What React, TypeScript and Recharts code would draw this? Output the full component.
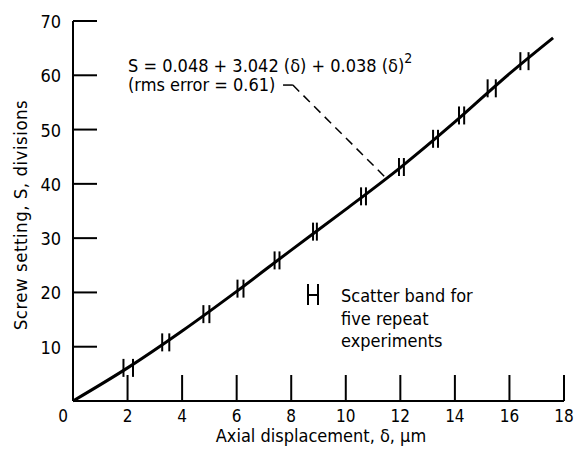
import React from 'react';
import {
  ComposedChart,
  Line,
  Scatter,
  XAxis,
  YAxis,
  ReferenceLine,
} from 'recharts';

// fitted curve (δ in µm, S in divisions)
const curveDelta = [0, 2, 4, 6, 8, 10, 12, 14, 16, 17.6];
const curveS = [0, 6.1, 12.9, 20.2, 27.8, 35.3, 43.0, 51.4, 60.3, 66.9];

// scatter bands: lowest / highest δ of five repeats at each screw setting
const bandLow = [1.85, 3.27, 4.78, 6.03, 7.39, 8.8, 10.56, 11.95, 13.2, 14.15, 15.2, 16.4];
const bandHigh = [2.2, 3.53, 5.0, 6.25, 7.57, 8.94, 10.74, 12.13, 13.38, 14.34, 15.5, 16.7];
const bandS = [6.1, 10.8, 16.0, 20.7, 25.9, 31.2, 37.7, 43.1, 48.3, 52.6, 57.6, 62.6];

const xTicks = [0, 2, 4, 6, 8, 10, 12, 14, 16, 18];
const yTicks = [10, 20, 30, 40, 50, 60, 70];

const FONT = "'DejaVu Sans Condensed', 'Liberation Sans Narrow', sans-serif";

const curveData = curveDelta.map((x, i) => ({ x, y: curveS[i] }));
const bandData = bandS.flatMap((s, i) => [
  { x: bandLow[i], y: s },
  { x: bandHigh[i], y: s },
]);

const BandBar = (props: any) => {
  const { cx, cy } = props;
  if (cx == null || cy == null) return null;
  return <line x1={cx} x2={cx} y1={cy - 9} y2={cy + 9} stroke="#000" strokeWidth={2} />;
};

const XTick = (props: any) => {
  const { x, y, payload } = props;
  const v = payload.value;
  return (
    <g>
      {v !== 0 && <line x1={x} x2={x} y1={y} y2={y - 26} stroke="#000" strokeWidth={2} />}
      <text
        x={v === 0 ? x - 10 : x}
        y={y + 21}
        textAnchor="middle"
        fontFamily={FONT}
        fontSize={17}
        fill="#000"
      >
        {v}
      </text>
    </g>
  );
};

const YTick = (props: any) => {
  const { x, y, payload } = props;
  return (
    <g>
      <line x1={x} x2={x + 24} y1={y} y2={y} stroke="#000" strokeWidth={2} />
      <text x={x - 12} y={y + 7} textAnchor="end" fontFamily={FONT} fontSize={18} fill="#000">
        {payload.value}
      </text>
    </g>
  );
};

export default function App() {
  return (
    <div style={{ position: 'absolute', left: 0, top: 0, width: 576, height: 452, background: '#fff' }}>
      <ComposedChart width={576} height={452} margin={{ top: 21, right: 12, bottom: 21, left: 13 }}>
        <XAxis
          type="number"
          dataKey="x"
          domain={[0, 18]}
          ticks={xTicks}
          interval={0}
          tickSize={0}
          tickMargin={0}
          height={30}
          axisLine={{ stroke: '#000', strokeWidth: 2 }}
          tickLine={false}
          tick={<XTick />}
        />
        <YAxis
          type="number"
          dataKey="y"
          domain={[0, 70]}
          ticks={yTicks}
          interval={0}
          tickSize={0}
          tickMargin={0}
          width={60}
          axisLine={{ stroke: '#000', strokeWidth: 2 }}
          tickLine={false}
          tick={<YTick />}
        />
        <ReferenceLine
          segment={[{ x: 7.7, y: 58.2 }, { x: 8.06, y: 58.2 }]}
          stroke="#000"
          strokeWidth={1.5}
        />
        <ReferenceLine
          segment={[{ x: 8.06, y: 58.2 }, { x: 11.44, y: 41.25 }]}
          stroke="#000"
          strokeWidth={1.5}
          strokeDasharray="9 6"
        />
        <Line
          data={curveData}
          dataKey="y"
          type="monotone"
          stroke="#000"
          strokeWidth={3}
          dot={false}
          activeDot={false}
          isAnimationActive={false}
        />
        <Scatter data={bandData} dataKey="y" shape={<BandBar />} isAnimationActive={false} />

        <text x={128} y={72} fontFamily={FONT} fontSize={18} fill="#000">
          S = 0.048 + 3.042 (δ) + 0.038 (δ)
          <tspan dy={-9} fontSize={14}>2</tspan>
        </text>
        <text x={128} y={91} fontFamily={FONT} fontSize={18} fill="#000">
          (rms error = 0.61)
        </text>

        <g stroke="#000" strokeWidth={2}>
          <line x1={308} x2={308} y1={284} y2={305} />
          <line x1={318} x2={318} y1={284} y2={305} />
          <line x1={308} x2={318} y1={295} y2={295} />
        </g>
        <text fontFamily={FONT} fontSize={18} fill="#000">
          <tspan x={341} y={302}>Scatter band for</tspan>
          <tspan x={341} y={325}>five repeat</tspan>
          <tspan x={341} y={347}>experiments</tspan>
        </text>

        <text x={321} y={442} textAnchor="middle" fontFamily={FONT} fontSize={18} fill="#000">
          Axial displacement, δ, μm
        </text>
        <text
          transform="translate(27 215) rotate(-90)"
          textAnchor="middle"
          fontFamily={FONT}
          fontSize={18.5}
          letterSpacing={0.5}
          fill="#000"
        >
          Screw setting, S, divisions
        </text>
      </ComposedChart>
    </div>
  );
}
